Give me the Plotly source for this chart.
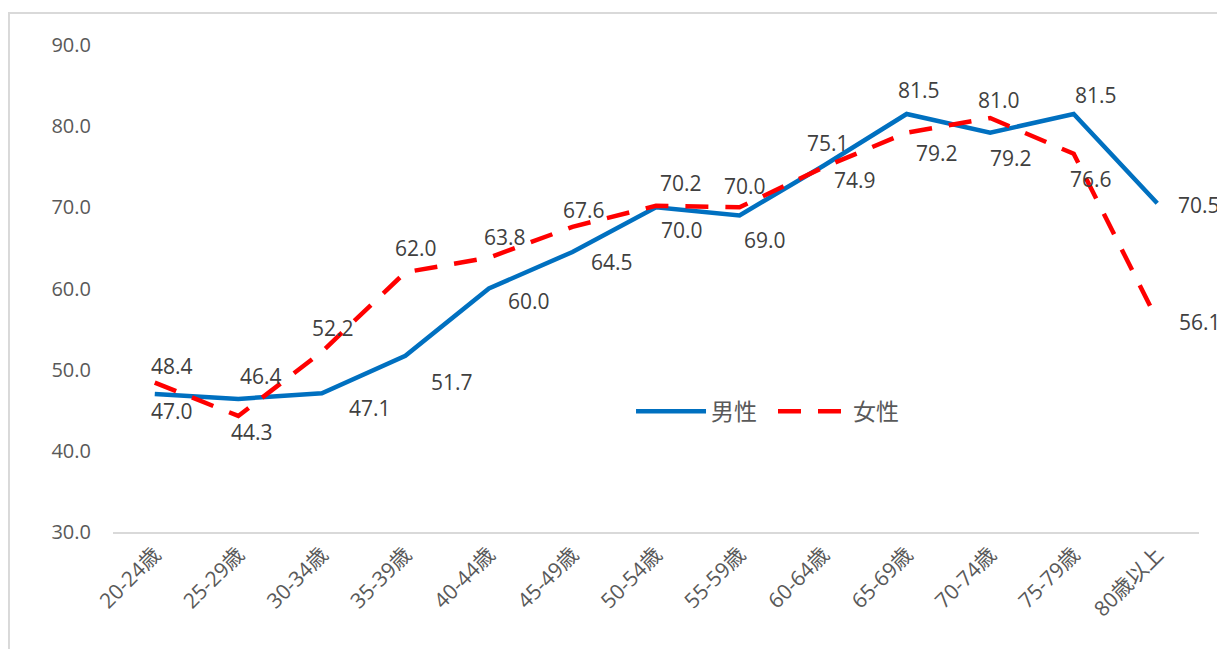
import plotly.graph_objects as go

categories = ["20-24歳", "25-29歳", "30-34歳", "35-39歳", "40-44歳", "45-49歳", "50-54歳",
              "55-59歳", "60-64歳", "65-69歳", "70-74歳", "75-79歳", "80歳以上"]
male = [47.0, 46.4, 47.1, 51.7, 60.0, 64.5, 70.0, 69.0, 75.1, 81.5, 79.2, 81.5, 70.5]
female = [48.4, 44.3, 52.2, 62.0, 63.8, 67.6, 70.2, 70.0, 74.9, 79.2, 81.0, 76.6, 56.1]
y_ticks = [30, 40, 50, 60, 70, 80, 90]

# label offsets (pixels) for data labels
male_off = [(17, -17), (23, 23), (48, -15), (47, -26), (40, -12), (40, -10), (26, -23),
            (25, -25), (5, 23), (12, 24), (21, -25), (22, 19), (42, -2)]
female_off = [(17, 17), (14, -16), (11, 24), (11, 24), (16, 21), (12, 17), (25, 23),
              (5, 21), (32, -12), (30, -20), (9, 18), (17, -25), (43, -2)]

FONT = "Open Sans, Noto Sans CJK JP, sans-serif"
BLUE = "#0070C0"
RED = "#FF0000"

fig = go.Figure()
fig.add_trace(go.Scatter(x=categories, y=male, mode="lines", name="男性",
                         line=dict(color=BLUE, width=4.5)))
fig.add_trace(go.Scatter(x=categories, y=female, mode="lines", name="女性",
                         line=dict(color=RED, width=4.5, dash="23px,17px")))

annotations = []
for series, offs in ((male, male_off), (female, female_off)):
    for c, v, (dx, dy) in zip(categories, series, offs):
        annotations.append(dict(x=c, y=v, xref="x", yref="y", text=f"{v:.1f}",
                                showarrow=False, xshift=dx, yshift=dy,
                                font=dict(family=FONT, size=21, color="#404040")))

fig.update_layout(
    width=1217, height=641,
    margin=dict(l=105, r=26, t=37, b=117),
    paper_bgcolor="white", plot_bgcolor="white",
    font=dict(family=FONT, color="#595959"),
    annotations=annotations,
    showlegend=True,
    legend=dict(orientation="h", x=0.477, y=0.248, xanchor="left", yanchor="middle",
                font=dict(family=FONT, size=23, color="#595959"),
                bgcolor="rgba(0,0,0,0)", itemwidth=70,
                entrywidth=57, entrywidthmode="pixels"),
    xaxis=dict(type="category", range=[-0.5, 12.5], showgrid=False, zeroline=False,
               showline=True, linecolor="#D9D9D9", linewidth=2, ticks="",
               tickangle=-45, tickfont=dict(family=FONT, size=21, color="#595959")),
    yaxis=dict(range=[30, 90], tickvals=y_ticks, ticktext=[f"{t:.1f}" for t in y_ticks],
               showgrid=False, zeroline=False, showline=False, ticks="",
               ticklabelstandoff=21,
               tickfont=dict(family=FONT, size=20, color="#595959")),
    shapes=[dict(type="rect", xref="paper", yref="paper",
                 x0=-0.0958, x1=1.03, y0=-0.26, y1=1.0657,
                 line=dict(color="#D9D9D9", width=2), layer="below")],
)

fig.write_html("out.html")
